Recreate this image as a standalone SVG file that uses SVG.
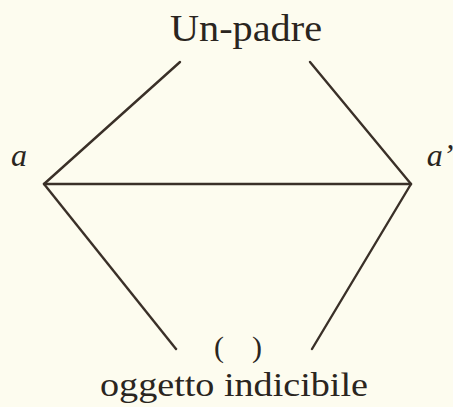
<svg xmlns="http://www.w3.org/2000/svg" width="453" height="407" viewBox="0 0 453 407">
<style>
.t{font-family:"Liberation Serif","DejaVu Serif",serif;fill:#2a2520;text-anchor:middle}
.i{font-style:italic}
.e{stroke:#3a3028;stroke-width:2.4;fill:none;stroke-linecap:round}
</style>
<rect width="453" height="407" fill="#fdfcef"/>
<g id="connectors">
<line class="e" x1="180" y1="62" x2="44" y2="184"/>
<line class="e" x1="310" y1="62" x2="411" y2="184"/>
<line class="e" x1="44" y1="184" x2="411" y2="184"/>
<line class="e" x1="44" y1="184" x2="176" y2="349"/>
<line class="e" x1="411" y1="184" x2="312" y2="349"/>
</g>
<g id="un-padre"><text class="t" x="246" y="41" font-size="38" textLength="152" lengthAdjust="spacingAndGlyphs">Un-padre</text></g>
<g id="a"><text class="t i" x="19" y="166" font-size="32">a</text></g>
<g id="a-prime"><text class="t i" x="440" y="166" font-size="32">a’</text></g>
<g id="oggetto"><text class="t" x="219" y="357" font-size="30">(</text><text class="t" x="257" y="357" font-size="30">)</text><text class="t" x="234" y="396" font-size="34" textLength="268" lengthAdjust="spacingAndGlyphs">oggetto indicibile</text></g>
</svg>
